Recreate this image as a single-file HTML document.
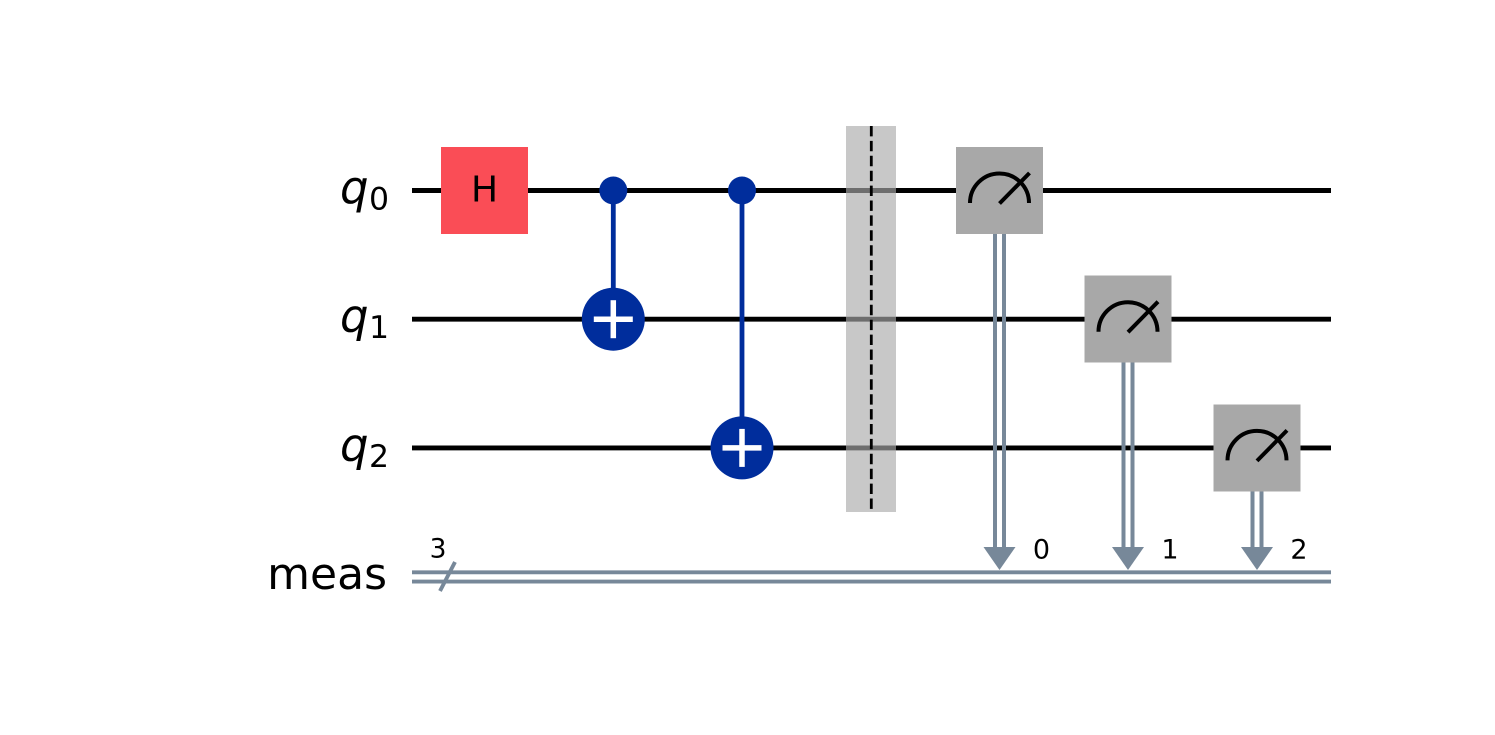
<!DOCTYPE html>
<html><head><meta charset="utf-8"><style>
html,body{margin:0;padding:0;background:#fff;}
svg{display:block;}
text{font-family:"DejaVu Sans","Liberation Sans",sans-serif;}
</style></head><body>
<svg width="1495" height="735" viewBox="0 0 1495 735" xmlns="http://www.w3.org/2000/svg">
<rect width="1495" height="735" fill="#fff"/>
<!-- quantum wires -->
<g stroke="#000" stroke-width="4.9">
<line x1="412" y1="190.5" x2="1331" y2="190.5"/>
<line x1="412" y1="319.2" x2="1331" y2="319.2"/>
<line x1="412" y1="447.9" x2="1331" y2="447.9"/>
</g>
<!-- classical register -->
<g stroke="#778899" stroke-width="3.9">
<line x1="412" y1="572.3" x2="1331" y2="572.3"/>
<line x1="412" y1="581.6" x2="1331" y2="581.6"/>
<line x1="440" y1="591" x2="455" y2="562"/>
</g>
<!-- labels -->
<g font-size="45" fill="#000">
<text x="340" y="203" font-style="italic">q</text>
<text x="369" y="209.5" font-size="31.5">0</text>
<text x="340" y="331.7" font-style="italic">q</text>
<text x="369" y="338.2" font-size="31.5">1</text>
<text x="340" y="460.4" font-style="italic">q</text>
<text x="369" y="466.9" font-size="31.5">2</text>
<text x="387" y="589" text-anchor="end" font-size="44">meas</text>
</g>
<text x="438" y="557.5" text-anchor="middle" font-size="26.5">3</text>
<!-- H gate -->
<rect x="441" y="147" width="87" height="87" fill="#FA4D56"/>
<text x="484.5" y="201.7" text-anchor="middle" font-size="36">H</text>
<!-- CNOT 1 -->
<g fill="#002D9C" stroke="none">
<line x1="613.3" y1="190.5" x2="613.3" y2="319.2" stroke="#002D9C" stroke-width="4.8"/>
<circle cx="613.3" cy="190.5" r="14"/>
<circle cx="613.3" cy="319.2" r="31.5"/>
</g>
<g stroke="#fff" stroke-width="5.5">
<line x1="593.8" y1="319.2" x2="632.8" y2="319.2"/>
<line x1="613.3" y1="300.2" x2="613.3" y2="338.2"/>
</g>
<!-- CNOT 2 -->
<g fill="#002D9C" stroke="none">
<line x1="742" y1="190.5" x2="742" y2="447.9" stroke="#002D9C" stroke-width="4.8"/>
<circle cx="742" cy="190.5" r="14"/>
<circle cx="742" cy="447.9" r="31.5"/>
</g>
<g stroke="#fff" stroke-width="5.5">
<line x1="722.5" y1="447.9" x2="761.5" y2="447.9"/>
<line x1="742" y1="428.9" x2="742" y2="466.9"/>
</g>
<!-- barrier -->
<rect x="846" y="126" width="50" height="386" fill="#C8C8C8"/>
<g stroke="#6E6E6E" stroke-width="4.9">
<line x1="846" y1="190.5" x2="896" y2="190.5"/>
<line x1="846" y1="319.2" x2="896" y2="319.2"/>
<line x1="846" y1="447.9" x2="896" y2="447.9"/>
</g>
<line x1="871.3" y1="126" x2="871.3" y2="512" stroke="#000" stroke-width="2.8" stroke-dasharray="10.4 4.5"/>
<!-- measure classical links -->
<g stroke="#778899" stroke-width="4">
<line x1="995" y1="234" x2="995" y2="550"/>
<line x1="1004" y1="234" x2="1004" y2="550"/>
<line x1="1123.5" y1="362" x2="1123.5" y2="550"/>
<line x1="1132.5" y1="362" x2="1132.5" y2="550"/>
<line x1="1252.5" y1="491" x2="1252.5" y2="550"/>
<line x1="1261.5" y1="491" x2="1261.5" y2="550"/>
</g>
<g fill="#778899">
<polygon points="983.5,547 1015.5,547 999.5,570"/>
<polygon points="1112,547 1144,547 1128,570"/>
<polygon points="1241,547 1273,547 1257,570"/>
</g>
<g font-size="27" fill="#000" text-anchor="middle">
<text x="1041.5" y="558.5">0</text>
<text x="1170" y="558.5">1</text>
<text x="1299" y="558.5">2</text>
</g>
<rect x="956" y="147" width="87" height="87" fill="#A8A8A8"/>
<rect x="1084.5" y="275.5" width="87" height="87" fill="#A8A8A8"/>
<rect x="1213.5" y="404.5" width="87" height="87" fill="#A8A8A8"/>
<g fill="none" stroke="#000" stroke-width="4">
<path d="M970,203 A29.5,29.5 0 0 1 1029,203"/>
<line x1="999.5" y1="203.5" x2="1029.5" y2="173"/>
<path d="M1098.5,331.7 A29.5,29.5 0 0 1 1157.5,331.7"/>
<line x1="1128" y1="332.2" x2="1158" y2="301.7"/>
<path d="M1227.5,460.4 A29.5,29.5 0 0 1 1286.5,460.4"/>
<line x1="1257" y1="460.9" x2="1287" y2="430.4"/>
</g>
</svg>
</body></html>
